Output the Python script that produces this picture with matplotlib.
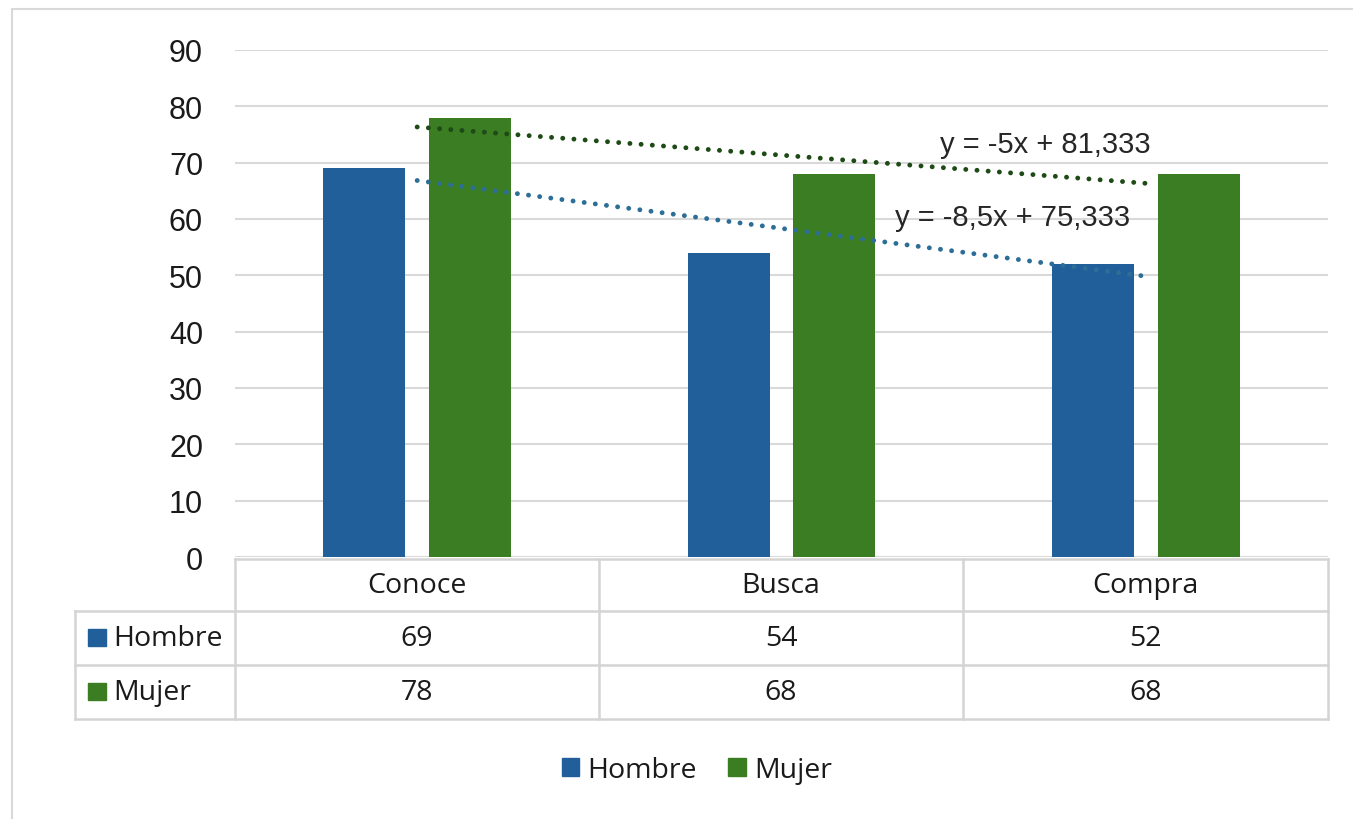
import numpy as np
import matplotlib
matplotlib.use("Agg")
import matplotlib.pyplot as plt
from matplotlib.patches import Patch, Rectangle
from matplotlib.lines import Line2D

categories = ["Conoce", "Busca", "Compra"]
series_names = ["Hombre", "Mujer"]
hombre = [69, 54, 52]
mujer = [78, 68, 68]
yticks = [0, 10, 20, 30, 40, 50, 60, 70, 80, 90]

c_blue = "#215F9A"
c_green = "#3B7D23"
c_blue_tr = "#2C6E96"
c_green_tr = "#1E4A16"
grid_c = "#D9D9D9"
tab_c = "#D4D4D4"

W, H = 1353, 820
fig = plt.figure(figsize=(W / 100, H / 100), dpi=100)

def fx(x):
    return x / W

def fy(y):
    return 1 - y / H

# outer border
fig.patches.append(Rectangle((fx(12), fy(830)), fx(1400) - fx(12), fy(10) - fy(830),
                             transform=fig.transFigure, fill=False, edgecolor="#D9D9D9", lw=1.5))

ax_l, ax_r, ax_t, ax_b = 235, 1328, 51, 558
ax = fig.add_axes([fx(ax_l), fy(ax_b), fx(ax_r) - fx(ax_l), fy(ax_t) - fy(ax_b)])
x = np.arange(len(categories))
bw = 0.225
off = 0.145
ax.bar(x - off, hombre, bw, color=c_blue, zorder=3)
ax.bar(x + off, mujer, bw, color=c_green, zorder=3)
ax.set_xlim(-0.5, len(categories) - 0.5)
ax.set_ylim(0, 90)
ax.set_yticks(yticks)
ax.set_yticklabels([str(v) for v in yticks], fontsize=22, family="Liberation Sans", color="#1a1a1a")
ax.tick_params(axis="y", length=0, pad=23)
ax.set_xticks([])
for s in ax.spines.values():
    s.set_visible(False)
ax.yaxis.grid(True, color=grid_c, lw=1.5, zorder=0)
ax.set_axisbelow(True)

# trendlines (linear fit)
xs = np.arange(1, len(categories) + 1)
for vals, col, lbl_pos in [(mujer, c_green_tr, (1045, 145)), (hombre, c_blue_tr, (1013, 218))]:
    m, b = np.polyfit(xs, vals, 1)
    ax.plot(x, m * xs + b, color=col, lw=3.5, linestyle=(0, (0.01, 2.3)),
            dash_capstyle="round", zorder=4)
    def fmt(v):
        s = f"{v:.3f}".rstrip("0").rstrip(".")
        return s.replace(".", ",")
    sign = "+" if b >= 0 else "-"
    txt = f"y = {fmt(m)}x {sign} {fmt(abs(b))}"
    fig.text(fx(lbl_pos[0]), fy(lbl_pos[1]), txt, ha="center", va="center",
             fontsize=21, family="Liberation Sans", color="#262626")

# data table
col_edges = [235, 599, 963, 1328]
row_edges = [560, 612, 666, 720]
lab_l = 75
tfont = "Open Sans"
tsize = 20.5

def hline(y, x0, x1):
    fig.add_artist(Line2D([fx(x0), fx(x1)], [fy(y), fy(y)], color=tab_c, lw=1.8,
                          transform=fig.transFigure))

def vline(x0, y0, y1):
    fig.add_artist(Line2D([fx(x0), fx(x0)], [fy(y0), fy(y1)], color=tab_c, lw=1.8,
                          transform=fig.transFigure))

hline(row_edges[0], col_edges[0], col_edges[-1])
for y in row_edges[1:]:
    hline(y, lab_l, col_edges[-1])
for xe in col_edges:
    vline(xe, row_edges[0], row_edges[-1])
vline(lab_l, row_edges[1], row_edges[-1])

for i, c in enumerate(categories):
    cx = (col_edges[i] + col_edges[i + 1]) / 2
    fig.text(fx(cx), fy((row_edges[0] + row_edges[1]) / 2), c, ha="center", va="center",
             fontsize=tsize, family=tfont, color="#1a1a1a")
for r, (name, vals, col) in enumerate([(series_names[0], hombre, c_blue),
                                        (series_names[1], mujer, c_green)]):
    ry = (row_edges[r + 1] + row_edges[r + 2]) / 2
    fig.patches.append(Rectangle((fx(88), fy(ry + 8)), fx(106) - fx(88), fy(ry - 9) - fy(ry + 8),
                                 transform=fig.transFigure, color=col))
    fig.text(fx(113), fy(ry), name, ha="left", va="center", fontsize=tsize,
             family=tfont, color="#1a1a1a")
    for i, v in enumerate(vals):
        cx = (col_edges[i] + col_edges[i + 1]) / 2
        fig.text(fx(cx), fy(ry), str(v), ha="center", va="center", fontsize=tsize,
                 family=tfont, color="#1a1a1a")

# legend
handles = [Patch(color=c_blue, label=series_names[0]), Patch(color=c_green, label=series_names[1])]
leg = fig.legend(handles=handles, loc="center", bbox_to_anchor=(fx(697), fy(771)), ncol=2,
                 frameon=False, handlelength=0.6, handleheight=0.6, handletextpad=0.3,
                 columnspacing=1.1, prop={"family": tfont, "size": tsize})
for t in leg.get_texts():
    t.set_color("#1a1a1a")

fig.savefig("out.png", dpi=100)
